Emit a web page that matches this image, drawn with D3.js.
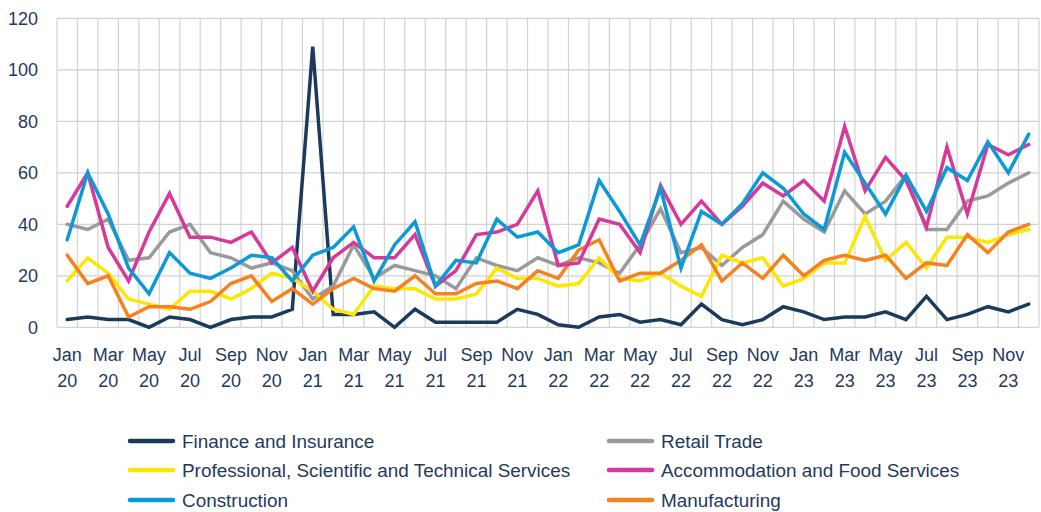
<!DOCTYPE html>
<html>
<head>
<meta charset="utf-8">
<script src="https://cdn.jsdelivr.net/npm/d3@7"></script>
<style>
  html, body { margin: 0; padding: 0; background: #fff; }
  svg { display: block; }
  text { font-family: "Liberation Sans", Arial, sans-serif; fill: #1f3a5c; }
</style>
</head>
<body>
<svg id="chart" width="1041" height="512"></svg>
<script>
const monthNames = ["Jan","Feb","Mar","Apr","May","Jun","Jul","Aug","Sep","Oct","Nov","Dec"];
const years = ["20","21","22","23"];
const months = [];
years.forEach(y => monthNames.forEach(m => months.push(m + " " + y)));

const yTicks = [0, 20, 40, 60, 80, 100, 120];

const finance = [3,4,3,3,0,4,3,0,3,4,4,7,109,5,5,6,0,7,2,2,2,2,7,5,1,0,4,5,2,3,1,9,3,1,3,8,6,3,4,4,6,3,12,3,5,8,6,9];
const retail = [40,38,42,26,27,37,40,29,27,23,25,22,11,16,32,19,24,22,20,15,27,24,22,27,24,27,25,21,32,46,29,31,24,31,36,49,42,37,53,44,49,59,38,38,49,51,56,60];
const professional = [18,27,21,11,9,7,14,14,11,15,21,19,14,7,5,16,15,15,11,11,13,23,19,19,16,17,27,19,18,21,16,12,28,25,27,16,19,25,25,43,26,33,23,35,35,33,36,38];
const accommodation = [47,60,31,18,37,52,35,35,33,37,25,31,14,27,33,27,27,36,16,22,36,37,40,53,24,25,42,40,29,55,40,49,40,47,56,51,57,49,78,53,66,57,39,70,44,71,67,71];
const construction = [34,60,44,23,13,29,21,19,23,28,27,18,28,31,39,18,32,41,16,26,25,42,35,37,29,32,57,45,32,54,23,45,40,48,60,54,44,38,68,56,44,59,45,62,57,72,60,75];
const manufacturing = [28,17,20,4,8,8,7,10,17,20,10,15,9,15,19,15,14,20,13,13,17,18,15,22,19,30,34,18,21,21,26,32,18,25,19,28,20,26,28,26,28,19,25,24,36,29,37,40];

const seriesNames = ["Finance and Insurance","Retail Trade","Professional, Scientific and Technical Services","Accommodation and Food Services","Construction","Manufacturing"];
const seriesColors = ["#1b3a5c","#9a9a9c","#ffe600","#d6399a","#0c9ad6","#f5821f"];
const seriesValues = [finance, retail, professional, accommodation, construction, manufacturing];

const series = seriesNames.map((n, i) => ({ name: n, color: seriesColors[i], values: seriesValues[i] }));
const drawOrder = [0, 1, 2, 5, 3, 4];

const svg = d3.select("#chart");
const plotLeft = 57, plotRight = 1039, plotTop = 18.3, plotBottom = 327.3;

const x = d3.scaleBand().domain(months).range([plotLeft, plotRight]).padding(0);
const y = d3.scaleLinear().domain([0, 120]).range([plotBottom, plotTop]);
const cx = m => x(m) + x.bandwidth() / 2;

const grid = svg.append("g");
grid.selectAll("line.h").data(yTicks).join("line")
  .attr("class", "h")
  .attr("x1", plotLeft).attr("x2", plotRight)
  .attr("y1", d => y(d)).attr("y2", d => y(d))
  .attr("stroke", "#d2d2d4").attr("stroke-width", 1.2);
const bounds = months.map(m => x(m)).concat([plotRight]);
grid.selectAll("line.v").data(bounds).join("line")
  .attr("class", "v")
  .attr("x1", d => d).attr("x2", d => d)
  .attr("y1", plotTop).attr("y2", plotBottom)
  .attr("stroke", "#d2d2d4").attr("stroke-width", 1.2);

svg.append("g").selectAll("text").data(yTicks).join("text")
  .attr("x", 38).attr("y", d => y(d))
  .attr("dy", "0.35em")
  .attr("text-anchor", "end")
  .style("font-size", "18px")
  .text(d => d);

const xl = svg.append("g").selectAll("g").data(months.filter((m, i) => i % 2 === 0)).join("g")
  .attr("transform", d => `translate(${cx(d)},0)`);
xl.append("text").attr("y", 361).attr("text-anchor", "middle").style("font-size", "18px").text(d => d.split(" ")[0]);
xl.append("text").attr("y", 387).attr("text-anchor", "middle").style("font-size", "18px").text(d => d.split(" ")[1]);

const line = d3.line().x((d, i) => cx(months[i])).y(d => y(d));
svg.append("g").selectAll("path").data(drawOrder.map(i => series[i])).join("path")
  .attr("d", d => line(d.values))
  .attr("fill", "none")
  .attr("stroke", d => d.color)
  .attr("stroke-width", 3.5)
  .attr("stroke-linejoin", "miter")
  .attr("stroke-linecap", "round");

const legendPos = [
  {x: 128, y: 441}, {x: 607, y: 441},
  {x: 128, y: 470}, {x: 607, y: 470},
  {x: 128, y: 500}, {x: 607, y: 500}
];
const lg = svg.append("g").selectAll("g").data(series).join("g")
  .attr("transform", (d, i) => `translate(${legendPos[i].x},${legendPos[i].y})`);
lg.append("line").attr("x1", 2).attr("x2", 45).attr("y1", 0).attr("y2", 0)
  .attr("stroke", d => d.color).attr("stroke-width", 4.5).attr("stroke-linecap", "round");
lg.append("text").attr("x", 54).attr("dy", "0.35em").style("font-size", "18.9px").text(d => d.name);
</script>
</body>
</html>
